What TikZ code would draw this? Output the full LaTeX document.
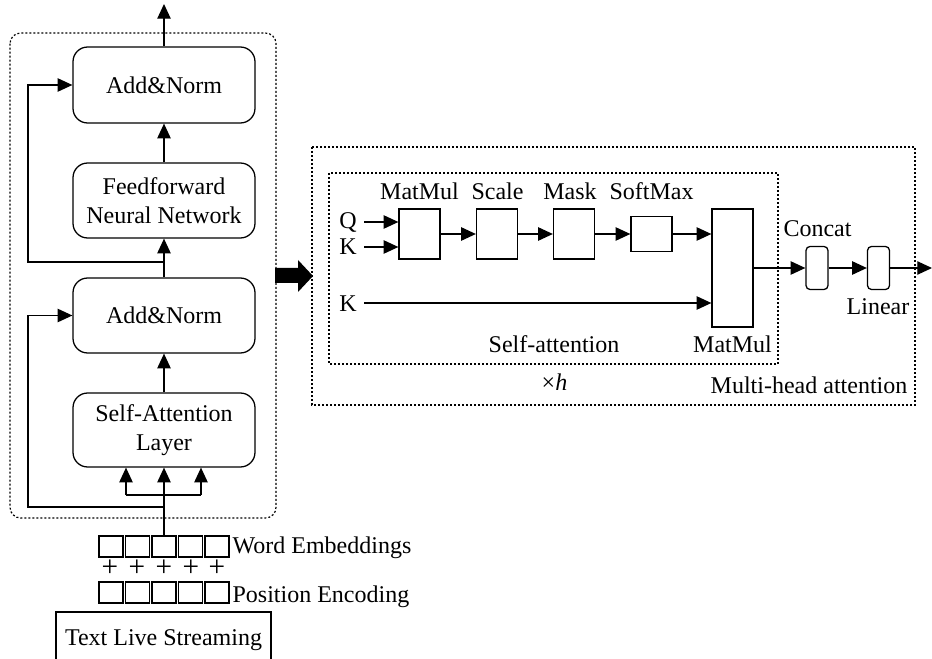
\documentclass[tikz,border=0pt]{standalone}
\usepackage{fontspec}
\setmainfont{Liberation Serif}
\usetikzlibrary{arrows.meta}
\begin{document}
\begin{tikzpicture}[x=0.75pt,y=-0.75pt,
  font=\fontsize{18}{21.75}\selectfont,
  line width=0.95pt,
  arr/.style={-{Triangle[length=11pt,width=10pt]}},
  rbox/.style={draw,rounded corners=11pt,inner sep=0pt,minimum width=136.5pt,align=center},
  sbox/.style={draw,inner sep=0pt,minimum width=30.75pt},
  tbox/.style={draw,rounded corners=3pt,inner sep=0pt,minimum width=16.5pt,minimum height=32.25pt},
  dashbox/.style={line width=0.9pt,dash pattern=on 1.5pt off 1.5pt},
  sq/.style={draw,inner sep=0pt,minimum width=18pt,minimum height=15.75pt},
  lbl/.style={anchor=base,inner sep=0pt},
  lblw/.style={anchor=base west,inner sep=0pt},
  plus/.style={inner sep=0pt,font=\fontsize{22}{22}\selectfont},
]
\useasboundingbox (0,0) rectangle (932,659);

% ---------- left encoder ----------
\draw[dashbox,rounded corners=8pt] (10,33) rectangle (276,518);

\node[rbox,minimum height=57pt] (an1) at (164,85) {Add\&Norm};
\node[rbox,minimum height=56.25pt] (ff) at (164,200.5) {Feedforward\\Neural Network};
\node[rbox,minimum height=56.25pt] (an2) at (164,315.5) {Add\&Norm};
\node[rbox,minimum height=55.5pt] (sa) at (164,430) {Self-Attention\\Layer};

\coordinate (out) at (164,4);
\draw[arr] (an1.north) -- (out);
\draw[arr] (ff.north) -- (an1.south);
\draw[arr] (an2.north) -- (ff.south);
\draw[arr] (sa.north) -- (an2.south);

\coordinate (s1) at (164,262);
\coordinate (s1c) at (28,262);
\draw[arr] (s1) -- (s1c) |- (an1.west);

\coordinate (s2) at (164,507);
\coordinate (s2c) at (28,507);
\draw[arr] (s2) -- (s2c) |- (an2.west);

% embeddings
\node[sq] (we1) at (111,546.5) {};
\node[sq] (we2) at (137.5,546.5) {};
\node[sq] (we3) at (164,546.5) {};
\node[sq] (we4) at (190.5,546.5) {};
\node[sq] (we5) at (217,546.5) {};
\node[lblw] (wel) at (232,553) {Word Embeddings};

\node[sq] (pe1) at (111,592.5) {};
\node[sq] (pe2) at (137.5,592.5) {};
\node[sq] (pe3) at (164,592.5) {};
\node[sq] (pe4) at (190.5,592.5) {};
\node[sq] (pe5) at (217,592.5) {};
\node[lblw] (pel) at (232,602) {Position Encoding};

\node[plus] (p1) at (110,568) {+};
\node[plus] (p2) at (137,568) {+};
\node[plus] (p3) at (164,568) {+};
\node[plus] (p4) at (191,568) {+};
\node[plus] (p5) at (217,568) {+};

\draw[arr] (we3.north) -- (sa.south);
\coordinate (bl) at (126,495);
\coordinate (br) at (201,495);
\draw (bl) -- (br);
\draw[arr] (bl) -- (bl |- sa.south);
\draw[arr] (br) -- (br |- sa.south);

\draw (56,659) -- (56,612) -- (271,612) -- (271,659);
\node[lbl] (tls) at (163.5,645) {Text Live Streaming};

% big arrow
\fill (275,268) -- (298,268) -- (298,260) -- (313,276) -- (298,292) -- (298,283) -- (275,283) -- cycle;

% ---------- multi-head attention ----------
\draw[dashbox] (312,147) rectangle (915,405);
\draw[dashbox] (329,173) rectangle (778,364);

\node[sbox,minimum height=37.5pt] (mm1) at (419.5,234) {};
\node[sbox,minimum height=37.5pt] (sc) at (497,234) {};
\node[sbox,minimum height=37.5pt] (mk) at (574,234) {};
\node[sbox,minimum height=26.25pt] (sm) at (651.5,234) {};
\node[sbox,minimum height=88.5pt] (mm2) at (732.5,268) {};
\node[tbox] (cc) at (817,268) {};
\node[tbox] (ln) at (878.5,268) {};

\node[lbl] (lmm1) at (419.5,200) {MatMul};
\node[lbl] (lsc) at (497.5,200) {Scale};
\node[lbl] (lmk) at (570,200) {Mask};
\node[lbl] (lsm) at (651.5,200) {SoftMax};
\node[lbl] (lmm2) at (732.5,353) {MatMul};
\node[lbl] (lsa) at (554,353) {Self-attention};
\node[lbl] (lh) at (554.5,390) {×\textit{h}};
\node[lbl] (lcc) at (817.5,237) {Concat};
\node[lbl] (lln) at (878,315) {Linear};
\node[lbl] (lmh) at (809,393) {Multi-head attention};

\node[lbl] (q) at (348,229) {Q};
\node[lbl] (k1) at (348,255) {K};
\node[lbl] (k2) at (348,312) {K};

\coordinate (qs) at (364,222);
\coordinate (ks1) at (364,247);
\coordinate (ks2) at (364,303);
\draw[arr] (qs) -- (qs -| mm1.west);
\draw[arr] (ks1) -- (ks1 -| mm1.west);
\draw[arr] (ks2) -- (ks2 -| mm2.west);

\draw[arr] (mm1.east) -- (sc.west);
\draw[arr] (sc.east) -- (mk.west);
\draw[arr] (mk.east) -- (sm.west);
\draw[arr] (sm.east) -- (sm.east -| mm2.west);
\draw[arr] (mm2.east) -- (cc.west);
\draw[arr] (cc.east) -- (ln.west);
\coordinate (oe) at (932,268);
\draw[arr] (ln.east) -- (oe);
\end{tikzpicture}
\end{document}
